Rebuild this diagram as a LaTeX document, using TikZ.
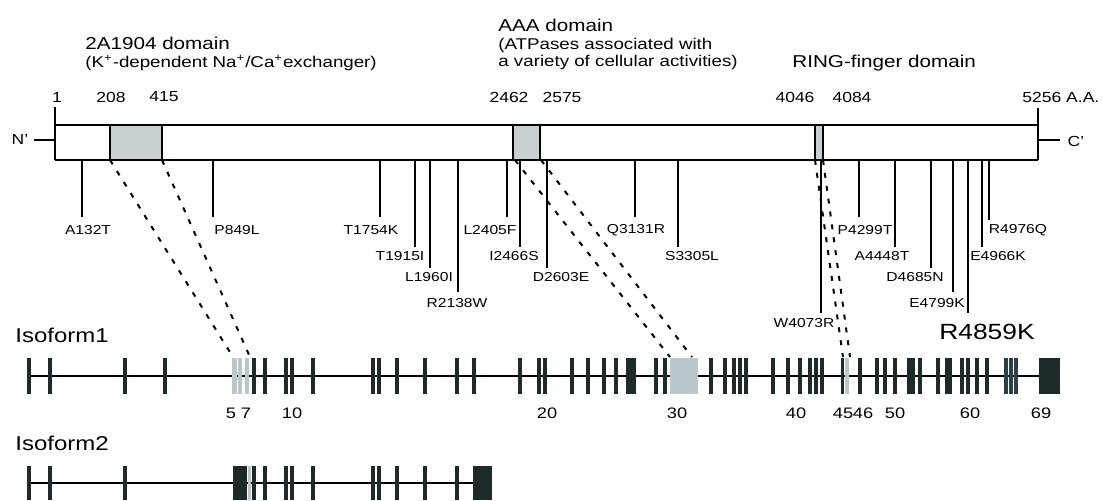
\documentclass[tikz,border=0pt]{standalone}
\usepackage{fontspec}
\setmainfont{Liberation Sans}[FakeStretch=1.2]
\usetikzlibrary{positioning}
\definecolor{exdark}{RGB}{30,42,42}
\definecolor{exteal}{RGB}{40,66,70}
\definecolor{exgrey}{RGB}{186,200,204}
\definecolor{domfill}{RGB}{200,208,212}
\newcommand{\fsz}[1]{\fontsize{#1}{#1}\selectfont}

\tikzset{
  protbar/.style={line width=0.9pt},
  dombox/.style={draw, line width=1pt, fill=domfill},
  mutline/.style={line width=0.85pt},
  mutlabel/.style={inner sep=0pt, font=\fsz{6.5}},
  poslabel/.style={inner sep=0pt, font=\fsz{7.3}},
  exnum/.style={inner sep=0pt, font=\fsz{7.6}},
  linker/.style={line width=1pt, dash pattern=on 2.5pt off 4pt},
  exon/.style={fill=exdark},
  exonpale/.style={fill=exgrey},
  intron/.style={line width=0.8pt}
}

\begin{document}
\begin{tikzpicture}[x=0.5pt, y=-0.5pt]
  \useasboundingbox (0,0) rectangle (1103,500);

  % domain titles
  \node[anchor=west, inner sep=0pt, font=\fsz{8.6}] (t2a) at (85,43) {2A1904 domain};
  \node[anchor=west, inner sep=0pt, font=\fsz{7.8}] (t2asub) at (85,63)
    {(K\textsuperscript{+}-dependent Na\textsuperscript{+}/Ca\textsuperscript{+}exchanger)};
  \node[anchor=west, inner sep=0pt, font=\fsz{8.6}] (taaa) at (498,25) {AAA domain};
  \node[anchor=north west, align=left, inner sep=0pt, font=\fontsize{7.8}{8.6}\selectfont] (taaasub) at (498,38)
    {(ATPases associated with\\a variety of cellular activities)};
  \node[anchor=west, inner sep=0pt, font=\fsz{8.6}] (tring) at (792,63) {RING-finger domain};

  % residue positions
  \node[poslabel] (p1) at (57,97) {1};
  \node[poslabel] (p208) at (111,97) {208};
  \node[poslabel] (p415) at (164,97) {415};
  \node[poslabel] (p2462) at (509,97) {2462};
  \node[poslabel] (p2575) at (562,97) {2575};
  \node[poslabel] (p4046) at (795,97) {4046};
  \node[poslabel] (p4084) at (852,97) {4084};
  \node[poslabel, anchor=west] (p5256) at (1022,97) {5256 A.A.};

  % protein bar
  \coordinate (barTL) at (55,125);
  \coordinate (barBL) at (55,160);
  \coordinate (barTR) at (1038,125);
  \coordinate (barBR) at (1038,160);
  \draw[protbar] (barTL) -- (barTR);
  \draw[protbar] (barBL) -- (barBR);
  \draw[protbar] (55,107) -- (barBL);
  \draw[protbar] (1038,108) -- (barBR);
  \node[inner sep=0pt, font=\fsz{7.3}] (nterm) at (20,139) {N'};
  \node[inner sep=0pt, font=\fsz{7.3}] (cterm) at (1076,141) {C'};
  \coordinate (ntick) at (34,140);
  \coordinate (ctick) at (1060,140);
  \draw[protbar] (ntick) -- (55,140);
  \draw[protbar] (1038,140) -- (ctick);

  \draw[dombox] (110,125) rectangle (162,160);
  \draw[dombox] (513,125) rectangle (540,160);
  \draw[dombox] (815,125) rectangle (823,160);

  % mutations
  \foreach \lx/\ly/\tx/\ty/\name [count=\i] in {
      82/217/88/230/A132T, 213/217/237/230/P849L, 380/217/371/230/T1754K,
      415/247/400/256/T1915I, 430/268/429/277/L1960I, 458/292/457/303/R2138W,
      507/217/490/230/L2405F, 520/247/514/256/I2466S, 547/268/561/277/D2603E,
      635/217/636/230/Q3131R, 678/247/692/256/S3305L, 821/313/804/323/W4073R,
      859/217/865/230/P4299T, 895/247/882/256/A4448T, 931/268/915/277/D4685N,
      953/292/937/303/E4799K, 982/247/998/256/E4966K, 989/220/1018/230/R4976Q}{
    \coordinate (mtop\i) at (\lx,160);
    \coordinate (mend\i) at (\lx,\ly);
    \draw[mutline] (mtop\i) -- (mend\i);
    \node[mutlabel] (mut\i) at (\tx,\ty) {\name};
  }
  \coordinate (mtopR) at (968,160);
  \coordinate (mendR) at (968,313);
  \draw[mutline] (mtopR) -- (mendR);
  \node[inner sep=0pt, font=\fsz{11}] (mutR) at (987,332) {R4859K};

  % isoform 1
  \node[anchor=west, inner sep=0pt, font=\fsz{10}] (iso1) at (15,335) {Isoform1};
  \coordinate (iso1L) at (29,376);
  \coordinate (iso1R) at (1049,376);
  \draw[intron] (iso1L) -- (iso1R);
  \foreach \ex/\w in {29/4, 50/4, 125/4, 165/4, 254/4, 265/4, 286/4, 292/4, 313/4,
      373/4, 379/4, 397/4, 425/4, 457/4, 474/4, 520/4, 539/4, 545/4, 572/4, 588/4,
      604/4, 616/4, 631/10, 656/4, 665/4, 711/4, 725/4, 734/4, 740/4, 746/4,
      773/4, 788/4, 800/4, 810/4, 816/4, 822/4, 842/3, 860/4, 877/4, 885/4, 895/4,
      911/8, 920/4, 938/4, 948/7, 962/4, 968/4, 977/4, 987/4, 1049/21}
    \fill[exon] ({\ex-\w/2},358) rectangle ({\ex+\w/2},394);
  \foreach \ex/\w in {1006/4, 1011/4, 1016/4}
    \fill[exteal] ({\ex-\w/2},358) rectangle ({\ex+\w/2},394);
  \foreach \ex/\w in {234/5, 240/4, 247/4, 684/28, 847/4}
    \fill[exonpale] ({\ex-\w/2},358) rectangle ({\ex+\w/2},394);

  \node[exnum] (e5) at (231,413) {5};
  \node[exnum] (e7) at (246,413) {7};
  \node[exnum] (e10) at (292,413) {10};
  \node[exnum] (e20) at (547,413) {20};
  \node[exnum] (e30) at (677,413) {30};
  \node[exnum] (e40) at (796,413) {40};
  \node[exnum] (e45) at (843,413) {45};
  \node[exnum] (e46) at (863,413) {46};
  \node[exnum] (e50) at (895,413) {50};
  \node[exnum] (e60) at (970,413) {60};
  \node[exnum] (e69) at (1041,413) {69};

  % domain to exon links
  \coordinate (x5top) at (233,357);
  \coordinate (x7top) at (250,357);
  \coordinate (x30a) at (670,357);
  \coordinate (x30b) at (692,357);
  \coordinate (x45a) at (843,357);
  \coordinate (x45b) at (850,357);
  \draw[linker] (110,160) -- (x5top);
  \draw[linker] (162,160) -- (x7top);
  \draw[linker] (515,160) -- (x30a);
  \draw[linker] (541,160) -- (x30b);
  \draw[linker] (815,160) -- (x45a);
  \draw[linker] (823,160) -- (x45b);

  % isoform 2
  \node[anchor=west, inner sep=0pt, font=\fsz{10}] (iso2) at (15,443) {Isoform2};
  \coordinate (iso2L) at (29,483);
  \coordinate (iso2R) at (482,483);
  \draw[intron] (iso2L) -- (iso2R);
  \foreach \ex/\w in {29/4, 50/4, 125/4, 240/14, 254/4, 265/4, 286/4, 292/4, 313/4,
      373/4, 379/4, 397/4, 425/4, 457/4, 482/19}
    \fill[exon] ({\ex-\w/2},466) rectangle ({\ex+\w/2},500);
  \fill[exonpale] (248,466) rectangle (251,500);
\end{tikzpicture}
\end{document}
